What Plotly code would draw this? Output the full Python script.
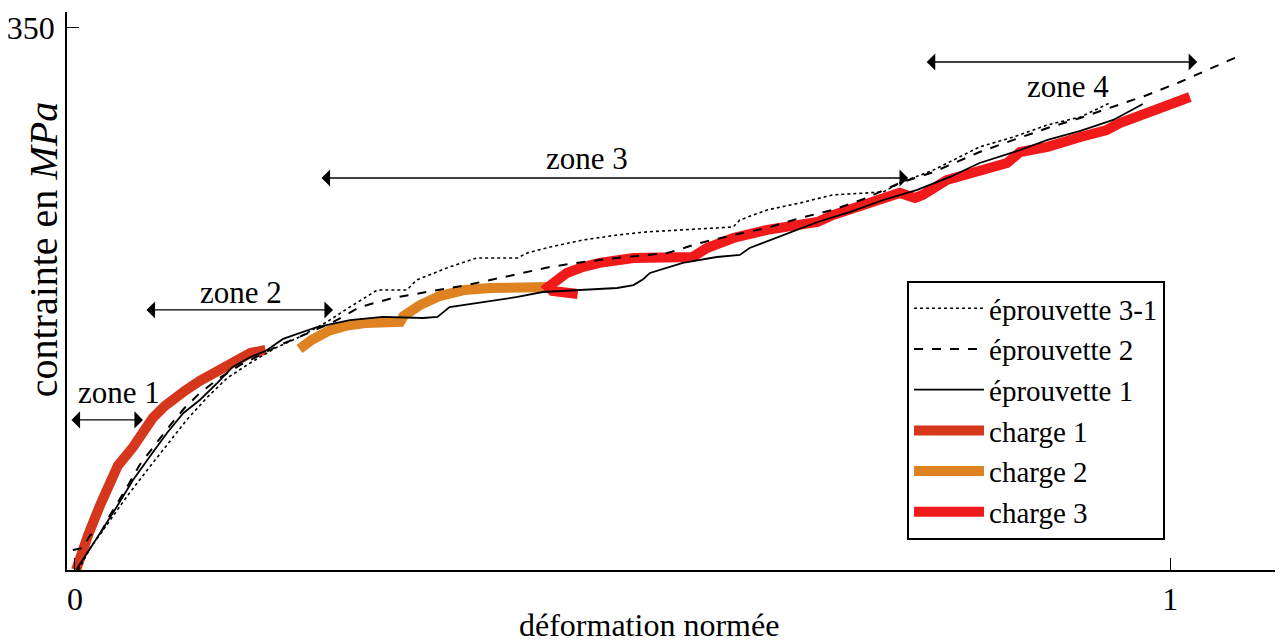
import plotly.graph_objects as go

# ---------------- data (normalised strain, stress in MPa) ----------------
charge1_x = [0.001, 0.005, 0.012, 0.023, 0.032, 0.039, 0.053, 0.064, 0.071, 0.082, 0.091,
             0.100, 0.114, 0.130, 0.144, 0.160, 0.174]
charge1_y = [0.0, 9.0, 22.6, 42.0, 55.5, 67.2, 79.4, 91.1, 98.2, 105.9, 111.1,
             115.6, 122.1, 127.9, 134.3, 140.1, 142.1]

charge2_x = [0.205, 0.216, 0.231, 0.247, 0.265, 0.283, 0.297, 0.300, 0.315, 0.333, 0.356,
             0.379, 0.406, 0.432]
charge2_y = [142.7, 148.5, 154.3, 157.6, 159.5, 160.2, 160.2, 164.0, 171.1, 176.9, 180.8,
             182.1, 182.7, 182.7]

charge3_x = [0.459, 0.436, 0.432, 0.439, 0.449, 0.464, 0.479, 0.510, 0.541, 0.564, 0.577,
             0.601, 0.632, 0.662, 0.678, 0.692, 0.723, 0.753, 0.767, 0.774, 0.796, 0.826,
             0.851, 0.863, 0.888, 0.918, 0.942, 0.954, 0.979, 1.018]
charge3_y = [178.2, 180.2, 182.7, 187.3, 191.8, 195.7, 198.3, 201.5, 202.1, 202.1, 207.9,
             214.4, 219.6, 222.8, 224.7, 229.2, 237.0, 243.5, 240.2, 242.2, 251.8, 258.3,
             262.8, 269.9, 273.2, 279.6, 284.1, 288.6, 295.1, 305.4]

ep1_x = [0.001, 0.012, 0.023, 0.038, 0.053, 0.068, 0.084, 0.099, 0.114, 0.130, 0.144, 0.160,
         0.174, 0.190, 0.221, 0.251, 0.281, 0.318, 0.331, 0.342, 0.373, 0.404, 0.427, 0.464,
         0.495, 0.510, 0.519, 0.525, 0.555, 0.586, 0.607, 0.616, 0.647, 0.678, 0.708, 0.738,
         0.769, 0.799, 0.826, 0.863, 0.888, 0.918, 0.948, 0.975]
ep1_y = [0.0, 11.6, 23.9, 40.7, 58.1, 73.0, 88.5, 101.4, 109.8, 120.8, 131.1, 137.5,
         141.4, 149.2, 156.9, 161.4, 163.4, 162.7, 163.4, 169.8, 173.1, 176.3, 179.5, 180.8,
         182.1, 184.0, 187.9, 191.8, 198.3, 202.1, 203.4, 207.9, 216.3, 224.7, 231.2, 238.9,
         245.4, 253.8, 262.8, 271.2, 277.7, 283.5, 290.6, 300.9]

ep2_x = [-0.002, 0.007, 0.014, 0.023, 0.032, 0.046, 0.059, 0.073, 0.087, 0.100, 0.114, 0.132,
         0.151, 0.169, 0.187, 0.205, 0.236, 0.260, 0.290, 0.321, 0.358, 0.388, 0.434, 0.464,
         0.495, 0.541, 0.571, 0.601, 0.632, 0.662, 0.692, 0.723, 0.753, 0.784, 0.826, 0.857,
         0.888, 0.918, 0.948, 0.979, 1.009, 1.039, 1.061]
ep2_y = [12.9, 14.2, 22.6, 23.2, 35.5, 51.7, 67.8, 80.7, 93.6, 104.6, 114.3, 124.0,
         132.4, 138.8, 145.3, 150.5, 160.2, 169.8, 175.6, 179.5, 184.0, 188.6, 195.7, 198.9,
         201.5, 204.7, 211.2, 216.3, 220.9, 227.3, 232.5, 240.2, 249.9, 257.0, 269.9, 277.7,
         285.4, 291.9, 299.0, 306.7, 315.1, 324.2, 331.3]

ep31_x = [0.003, 0.014, 0.029, 0.047, 0.066, 0.084, 0.102, 0.121, 0.139, 0.160, 0.183, 0.205,
          0.230, 0.251, 0.276, 0.303, 0.312, 0.342, 0.367, 0.404, 0.413, 0.434, 0.464, 0.495,
          0.522, 0.601, 0.607, 0.632, 0.662, 0.692, 0.738, 0.753, 0.784, 0.826, 0.857, 0.888,
          0.918, 0.945]
ep31_y = [0.0, 14.2, 29.1, 47.1, 64.6, 80.7, 96.9, 111.7, 124.0, 133.7, 143.4, 150.5,
          160.2, 169.8, 180.8, 180.8, 187.3, 195.7, 201.5, 201.5, 204.7, 208.6, 213.1, 216.3,
          218.3, 221.5, 226.0, 232.5, 237.0, 242.2, 244.1, 249.9, 258.3, 273.2, 279.6, 287.4,
          292.5, 301.6]

# zone arrows
zone_names = ["zone 1", "zone 2", "zone 3", "zone 4"]
zone_x0 = [-0.0046, 0.0639, 0.2237, 0.7763]
zone_x1 = [0.0621, 0.2356, 0.7607, 1.0247]
zone_y = [96.9, 167.9, 253.1, 328.0]
zone_label_x = [0.0402, 0.1516, 0.4676, 0.9068]
zone_label_y = [114.3, 179.5, 266.0, 312.5]

x_ticks = [0, 1]
y_ticks = [350]

FONT = "Liberation Serif"

fig = go.Figure()

series = [
    ("éprouvette 3-1", ep31_x, ep31_y, dict(color="black", width=1.6, dash="dot")),
    ("éprouvette 2", ep2_x, ep2_y, dict(color="black", width=2, dash="dash")),
    ("éprouvette 1", ep1_x, ep1_y, dict(color="black", width=1.8)),
    ("charge 1", charge1_x, charge1_y, dict(color="#d6361b", width=10)),
    ("charge 2", charge2_x, charge2_y, dict(color="#de8222", width=10)),
    ("charge 3", charge3_x, charge3_y, dict(color="#f01a1a", width=10)),
]
draw_order = [3, 4, 5, 0, 1, 2]
for i in draw_order:
    name, xs, ys, line = series[i]
    fig.add_trace(go.Scatter(x=xs, y=ys, mode="lines", name=name, line=line,
                             legendrank=i + 1))

annotations = []
for name, x0, x1, ya, xl, yl in zip(zone_names, zone_x0, zone_x1, zone_y,
                                    zone_label_x, zone_label_y):
    annotations.append(dict(x=x1, y=ya, ax=x0, ay=ya, xref="x", yref="y",
                            axref="x", ayref="y", text="", showarrow=True,
                            arrowhead=1, startarrowhead=1, arrowside="end+start",
                            arrowsize=2.2, startarrowsize=2.2, arrowwidth=1.3,
                            arrowcolor="black"))
    annotations.append(dict(x=xl, y=yl, xref="x", yref="y", text=name, showarrow=False,
                            font=dict(family=FONT, size=31, color="black"),
                            xanchor="center", yanchor="middle"))

annotations.append(dict(x=-0.0197, y=0.573, xref="paper", yref="paper",
                        text="contrainte en <i>MPa</i>", textangle=-90, showarrow=False,
                        font=dict(family=FONT, size=40, color="black"),
                        xanchor="center", yanchor="middle"))
annotations.append(dict(x=0.4786, y=-0.0986, xref="paper", yref="paper",
                        text="déformation normée", showarrow=False,
                        font=dict(family=FONT, size=32, color="black"),
                        xanchor="center", yanchor="middle"))

# the page adds an 8 px body margin, so the figure is sized to fit the window
fig.update_layout(
    width=1275, height=636,
    margin=dict(l=59, r=0, t=4, b=74, autoexpand=False),
    paper_bgcolor="white", plot_bgcolor="white",
    font=dict(family=FONT, color="black"),
    annotations=annotations,
    legend=dict(x=0.6908, y=0.518, xanchor="left", yanchor="top",
                bordercolor="black", borderwidth=2, bgcolor="white",
                font=dict(family=FONT, size=29, color="black"),
                itemwidth=70, traceorder="normal", tracegroupgap=0),
    xaxis=dict(range=[-0.0073, 1.103], tickvals=x_ticks, ticktext=[str(v) for v in x_ticks],
               ticks="inside", ticklen=12, tickcolor="black", tickwidth=1,
               showline=True, linecolor="black", linewidth=1.5, automargin=False,
               showgrid=False, zeroline=False,
               tickfont=dict(family=FONT, size=32, color="black")),
    yaxis=dict(range=[0, 360.3], tickvals=y_ticks, ticktext=[str(v) for v in y_ticks],
               ticks="inside", ticklen=12, tickcolor="black", tickwidth=1,
               showline=True, linecolor="black", linewidth=1.5, automargin=False,
               showgrid=False, zeroline=False, ticklabelstandoff=4,
               tickfont=dict(family=FONT, size=32, color="black")),
)

fig.write_html("out.html")
